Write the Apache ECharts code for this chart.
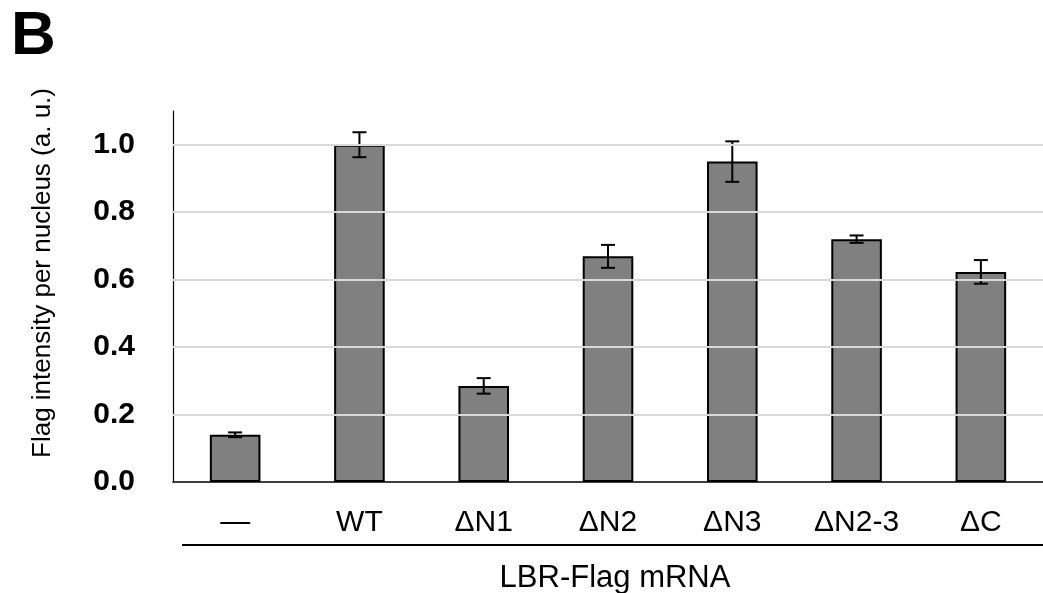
<!DOCTYPE html>
<html>
<head>
<meta charset="utf-8">
<script src="https://cdn.jsdelivr.net/npm/echarts@6/dist/echarts.min.js"></script>
<style>
html,body{margin:0;padding:0;background:#fff;}
#chart{width:1043px;height:593px;}
</style>
</head>
<body>
<div id="chart"></div>
<script>
var categories = ['\u2014', 'WT', '\u0394N1', '\u0394N2', '\u0394N3', '\u0394N2-3', '\u0394C'];
var values = [0.140, 1.000, 0.285, 0.669, 0.950, 0.720, 0.623];
var errors = [0.007, 0.037, 0.023, 0.034, 0.060, 0.011, 0.035];
var gridTicks = [0.2, 0.4, 0.6, 0.8, 1.0];

var FONT = "'Liberation Sans', Arial, Helvetica, sans-serif";
var chart = echarts.init(document.getElementById('chart'), null, {renderer: 'canvas'});

var errData = values.map(function (v, i) { return [i, v - errors[i], v + errors[i]]; });

var option = {
  animation: false,
  backgroundColor: '#ffffff',
  grid: {left: 173, right: -7, top: 111, bottom: 111, containLabel: false},
  xAxis: {
    type: 'category',
    data: categories,
    axisLine: {show: true, lineStyle: {color: '#000', width: 1.5}},
    axisTick: {show: false},
    axisLabel: {color: '#000', fontSize: 30, fontFamily: FONT, margin: 26}
  },
  yAxis: {
    type: 'value',
    min: 0, max: 1.1, interval: 0.2,
    axisLine: {show: true, lineStyle: {color: '#000', width: 1.2}},
    axisTick: {show: false},
    splitLine: {show: false},
    axisLabel: {
      color: '#000', fontSize: 30, fontWeight: 'bold', fontFamily: FONT, margin: 38,
      showMaxLabel: false,
      formatter: function (v) { return Math.abs(v - 1.1) < 1e-6 ? '' : v.toFixed(1); }
    }
  },
  series: [
    {
      type: 'line', data: [], z: 1, silent: true,
      markLine: {
        silent: true, symbol: ['none', 'none'], label: {show: false},
        lineStyle: {color: '#d9d9d9', width: 2, type: 'solid'},
        data: gridTicks.map(function (t) { return {yAxis: t}; })
      }
    },
    {
      type: 'bar', data: values, z: 2,
      barWidth: '40.7%',
      itemStyle: {color: '#808080', borderColor: '#000', borderWidth: 2}
    },
    {
      type: 'custom', z: 3, data: errData,
      renderItem: function (params, api) {
        var x = api.value(0);
        var lo = api.coord([x, api.value(1)]);
        var hi = api.coord([x, api.value(2)]);
        var w = 7;
        var st = {stroke: '#000', lineWidth: 2};
        return {type: 'group', children: [
          {type: 'line', shape: {x1: lo[0], y1: lo[1], x2: hi[0], y2: hi[1]}, style: st},
          {type: 'line', shape: {x1: hi[0] - w, y1: hi[1], x2: hi[0] + w, y2: hi[1]}, style: st},
          {type: 'line', shape: {x1: lo[0] - w, y1: lo[1], x2: lo[0] + w, y2: lo[1]}, style: st}
        ]};
      }
    }
  ],
  graphic: [
    {type: 'text', left: 11, top: 6, style: {text: 'B', fontSize: 62, fontWeight: 'bold', fontFamily: FONT, fill: '#000'}},
    {type: 'text', x: 43, y: 273, rotation: Math.PI / 2,
     style: {text: 'Flag intensity per nucleus (a. u.)', fontSize: 26, fontFamily: FONT, fill: '#000', textAlign: 'center', textVerticalAlign: 'middle'}},
    {type: 'line', shape: {x1: 182, y1: 545, x2: 1043, y2: 545}, style: {stroke: '#000', lineWidth: 2}},
    {type: 'text', x: 615, y: 578,
     style: {text: 'LBR-Flag mRNA', fontSize: 31, fontFamily: FONT, fill: '#000', textAlign: 'center', textVerticalAlign: 'middle'}}
  ]
};
chart.setOption(option);
</script>
</body>
</html>
